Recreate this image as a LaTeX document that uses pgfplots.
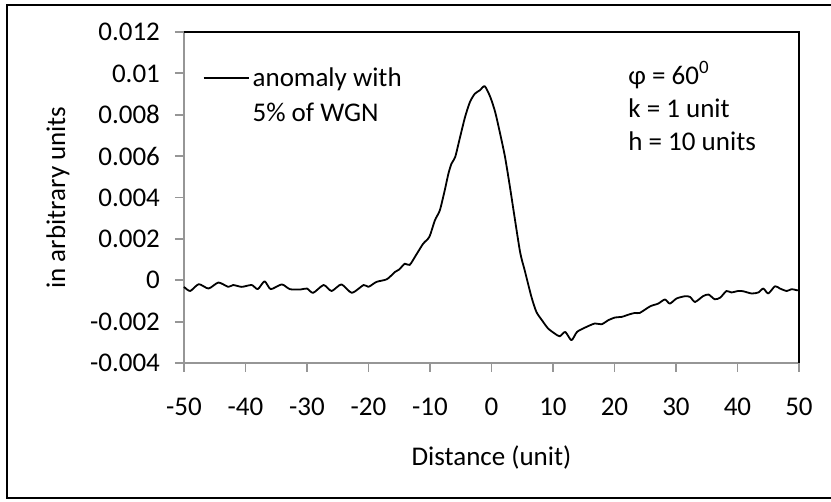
\documentclass[border=0pt]{standalone}
\usepackage{fontspec}
\setmainfont{Carlito}
\usepackage{pgfplots}
\pgfplotsset{compat=1.18}
\definecolor{axgray}{RGB}{150,150,150}
\begin{document}
\begin{tikzpicture}
\useasboundingbox (-92pt,-69.5pt) rectangle (323.5pt,181.5pt);
\draw[line width=0.75pt] (332pt,179pt) -- (-88.5pt,179pt) -- (-88.5pt,-67.5pt) -- (332pt,-67.5pt);
\begin{axis}[
  at={(0,0)}, anchor=south west,
  scale only axis,
  width=307.5pt, height=165.5pt,
  xmin=-50, xmax=50, ymin=-0.004, ymax=0.012,
  clip=false,
  axis line style={draw=none},
  xtick={-50,-40,-30,-20,-10,0,10,20,30,40,50},
  xticklabels={-50,-40,-30,-20,-10,0,10,20,30,40,50},
  ytick={-0.004,-0.002,0,0.002,0.004,0.006,0.008,0.01,0.012},
  yticklabels={-0.004,-0.002,0,0.002,0.004,0.006,0.008,0.01,0.012},
  scaled y ticks=false,
  xtick pos=bottom, ytick pos=left,
  tick align=outside,
  major tick length=4.5pt,
  tick style={axgray, line width=0.9pt},
  tick label style={font=\fontsize{13.5}{16}\selectfont},
  xticklabel style={anchor=north, yshift=-9.5pt},
  yticklabel style={anchor=east, xshift=-4pt},
  xlabel={Distance (unit)},
  ylabel={in arbitrary units},
  label style={font=\fontsize{13.5}{16}\selectfont},
  xlabel style={at={(axis description cs:0.5,-0.287)}, anchor=center},
  ylabel style={at={(axis description cs:-0.205,0.5)}, anchor=center},
  legend style={draw=none, fill=none, at={(axis description cs:0.03,0.90)}, anchor=north west,
    font=\fontsize{13.5}{16}\selectfont, row sep=5pt, inner sep=0pt,
    nodes={inner xsep=1.5pt, inner ysep=1pt}},
  legend cell align=left,
  legend image code/.code={\draw[#1] (0pt,0pt) -- (22.5pt,0pt);},
]
\draw[axgray, line width=0.9pt] (rel axis cs:0,1) -- (rel axis cs:0,0) -- (rel axis cs:1,0);
\draw[black, line width=0.75pt] (rel axis cs:0,1) -- (rel axis cs:1,1) -- (rel axis cs:1,0);
\addplot[black, line width=0.9pt, line join=round, smooth, tension=0.4] coordinates {
(-50,-0.00032) (-49,-0.00052) (-47.6,-0.00019) (-46.0,-0.0004) (-44.4,-0.00011)
(-42.8,-0.00032) (-42.0,-0.00023) (-40.6,-0.00032) (-39.0,-0.00023) (-38.0,-0.00043)
(-36.9,-0.00005) (-35.9,-0.00043) (-34.1,-0.0002) (-32.8,-0.00043) (-31.1,-0.00045)
(-30.0,-0.0004) (-29.0,-0.00061) (-27.3,-0.00023) (-26.0,-0.00052) (-24.4,-0.0002)
(-22.7,-0.00061) (-20.8,-0.00023) (-20.0,-0.00032) (-18.7,-0.00008) (-17.0,0.00005)
(-15.7,0.0004) (-15.0,0.00052) (-14.1,0.0008) (-13.3,0.00074) (-12.2,0.00125)
(-11.1,0.00177) (-10.1,0.0021) (-9.2,0.0029) (-8.4,0.00338) (-7.6,0.00435)
(-7.0,0.00516) (-6.5,0.00564) (-5.9,0.00596) (-5.1,0.00693) (-4.3,0.00789)
(-3.5,0.00862) (-2.7,0.00902) (-1.9,0.00918) (-1.1,0.00938) (-0.2,0.00886)
(0.6,0.00813) (1.4,0.00709) (2.2,0.00596) (3.0,0.00451) (4.6,0.00145)
(5.4,0.00048) (6.5,-0.00081) (7.3,-0.00153) (8.2,-0.00193) (9.2,-0.00233)
(10.3,-0.00258) (11.1,-0.00271) (12.0,-0.0025) (13.0,-0.0029) (13.9,-0.0025)
(15.2,-0.00229) (16.8,-0.00209) (17.9,-0.00213) (19.0,-0.00193) (20.1,-0.0018)
(21.2,-0.00177) (22.3,-0.00166) (23.3,-0.00158) (24.1,-0.00158) (25.8,-0.00126)
(27.1,-0.00113) (28.2,-0.00093) (29.0,-0.00113) (30.1,-0.00088) (31.5,-0.00077)
(32.3,-0.00081) (33.1,-0.00105) (34.4,-0.00077) (35.3,-0.00069) (36.3,-0.00092)
(37.2,-0.00084) (38.2,-0.00052) (39.0,-0.00059) (40.1,-0.00052) (40.9,-0.00053)
(42.3,-0.00064) (43.4,-0.00059) (44.2,-0.0004) (45.0,-0.00064) (46.1,-0.00029)
(46.9,-0.0004) (48.0,-0.00052) (48.8,-0.00043) (49.6,-0.00048) (50,-0.00048)
};
\addlegendentry{anomaly with}
\addlegendimage{empty legend}
\addlegendentry{5\% of WGN}
\node[anchor=north west, align=left, inner sep=0pt, font=\fontsize{13.5}{16.5}\selectfont]
  at (axis cs:22.2,0.0106) {φ = 60\textsuperscript{0}\\k = 1 unit\\h = 10 units};
\end{axis}
\end{tikzpicture}
\end{document}
